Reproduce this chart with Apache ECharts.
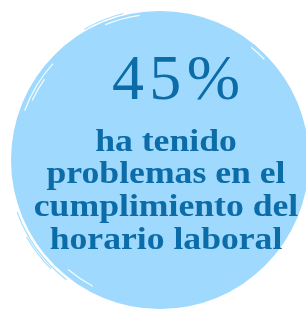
<!DOCTYPE html>
<html>
<head>
<meta charset="utf-8">
<script src="https://cdn.jsdelivr.net/npm/echarts@6/dist/echarts.min.js"></script>
<style>
  html, body { margin: 0; padding: 0; background: #fff; }
  #chart { width: 306px; height: 309px; }
</style>
</head>
<body>
<div id="chart"></div>
<script>
  // datos
  var porcentaje = [45];
  var textoLineas = ['ha tenido', 'problemas en el', 'cumplimiento del', 'horario laboral'];

  var azulOscuro = '#0b6ca7';
  var azulClaro = '#9fd9fd';
  var chart = echarts.init(document.getElementById('chart'));

  var grafTextos = [
    {
      type: 'text',
      z: 100,
      x: 112,
      y: 50,
      style: {
        text: String(porcentaje[0]).split('').join('\u200A') + '\u200A%',
        font: '64px "Liberation Serif"',
        fill: azulOscuro,
        align: 'left',
        verticalAlign: 'top'
      }
    }
  ];
  textoLineas.forEach(function (t, i) {
    grafTextos.push({
      type: 'text',
      z: 100,
      x: 166,
      y: 127 + i * 32.7,
      scaleX: 1.15,
      style: {
        text: t,
        font: 'bold 31px "Liberation Serif"',
        fill: azulOscuro,
        align: 'center',
        verticalAlign: 'top'
      }
    });
  });

  // trazos del borde (pincel)
  var trazos = [
    { r: 144, a0: 200, a1: 222, c: '#ffffff' },
    { r: 141, a0: 205, a1: 215, c: '#ffffff' },
    { r: 146, a0: 248, a1: 262, c: '#ffffff' },
    { r: 145, a0: 309, a1: 316, c: '#ffffff' },
    { r: 143, a0: 118, a1: 130, c: '#ffffff' },
    { r: 152, a0: 128, a1: 160, c: azulClaro },
    { r: 154, a0: 135, a1: 150, c: azulClaro },
    { r: 151, a0: 240, a1: 256, c: azulClaro }
  ];
  trazos.forEach(function (tr) {
    grafTextos.push({
      type: 'arc',
      z: 50,
      shape: { cx: 160, cy: 160, r: tr.r, startAngle: tr.a0 * Math.PI / 180, endAngle: tr.a1 * Math.PI / 180 },
      style: { stroke: tr.c, lineWidth: 1.2, fill: null, opacity: 0.9 }
    });
  });

  var option = {
    animation: false,
    series: [
      {
        type: 'pie',
        center: [160, 160],
        radius: [0, 149],
        silent: true,
        label: { show: false },
        labelLine: { show: false },
        itemStyle: { color: azulClaro },
        data: [{ value: porcentaje[0] }]
      }
    ],
    graphic: grafTextos
  };
  chart.setOption(option);
</script>
</body>
</html>
